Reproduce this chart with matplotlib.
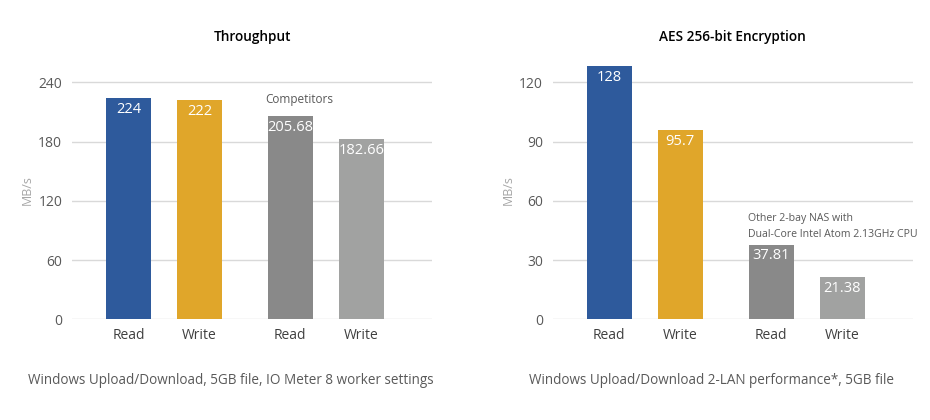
import matplotlib
matplotlib.use("Agg")
import matplotlib.pyplot as plt

# data
labels = ["Read", "Write", "Read", "Write"]
throughput = [224, 222, 205.68, 182.66]
throughput_txt = ["224", "222", "205.68", "182.66"]
aes = [128, 95.7, 37.81, 21.38]
aes_txt = ["128", "95.7", "37.81", "21.38"]
thr_ticks = [0, 60, 120, 180, 240]
aes_ticks = [0, 30, 60, 90, 120]

COLORS = ["#2E5A9C", "#E0A62A", "#898989", "#A1A2A1"]
XPOS = [0, 1, 2.28, 3.28]
GRID = "#D9D9D9"
TXT = "#595959"
FONT = ["Open Sans", "DejaVu Sans"]

fig = plt.figure(figsize=(9.3, 4.2), dpi=100)
ax1 = fig.add_axes([0.0774, 0.2398, 0.3871, 0.6174])
ax2 = fig.add_axes([0.5943, 0.2398, 0.3871, 0.6174])


def panel(ax, vals, txts, ticks, ytop, title, note, note_xy, note_fs, caption):
    ax.bar(XPOS, vals, width=0.634, color=COLORS, zorder=2)
    ax.set_xlim(-0.796, 4.275)
    ax.set_ylim(0, ytop)
    ax.set_yticks(ticks)
    ax.set_yticklabels([str(t) for t in ticks], color=TXT, fontsize=10, family=FONT)
    ax.set_xticks(XPOS)
    ax.set_xticklabels(labels, color="#404040", fontsize=10, family=FONT)
    ax.tick_params(length=0, pad=7)
    ax.tick_params(axis="x", pad=6)
    for t in ticks:
        ax.axhline(t, color=GRID, linewidth=1, zorder=1)
    for s in ax.spines.values():
        s.set_visible(False)
    ax.set_ylabel("MB/s", color="#A6A6A6", fontsize=9, family=FONT, labelpad=3)
    for x, v, t in zip(XPOS, vals, txts):
        ax.annotate(t, (x, v), xytext=(0, -8), textcoords="offset points",
                    ha="center", va="center", color="white", fontsize=10.5,
                    family=FONT, zorder=3)
    ax.text(note_xy[0], note_xy[1], note, transform=ax.transData, color=TXT,
            fontsize=note_fs, family=FONT, ha="left", va="center", linespacing=1.7)
    ax.set_title(title, fontsize=9.8, family=FONT, fontweight="semibold",
                 color="black", pad=0, y=1.0 + 19 / 259.3)
    ax.text(0.5 - 21 / 360, -0.235, caption, transform=ax.transAxes, ha="center",
            va="center", fontsize=9.75, family=FONT, color=TXT)


panel(ax1, throughput, throughput_txt, thr_ticks, 262.6, "Throughput",
      "Competitors", (1.93, 223), 8.5,
      "Windows Upload/Download, 5GB file, IO Meter 8 worker settings")
panel(ax2, aes, aes_txt, aes_ticks, 131.3, "AES 256-bit Encryption",
      "Other 2-bay NAS with\nDual-Core Intel Atom 2.13GHz CPU", (1.95, 47), 7.6,
      "Windows Upload/Download 2-LAN performance*, 5GB file")

fig.savefig("out.png", dpi=100, facecolor="white")
